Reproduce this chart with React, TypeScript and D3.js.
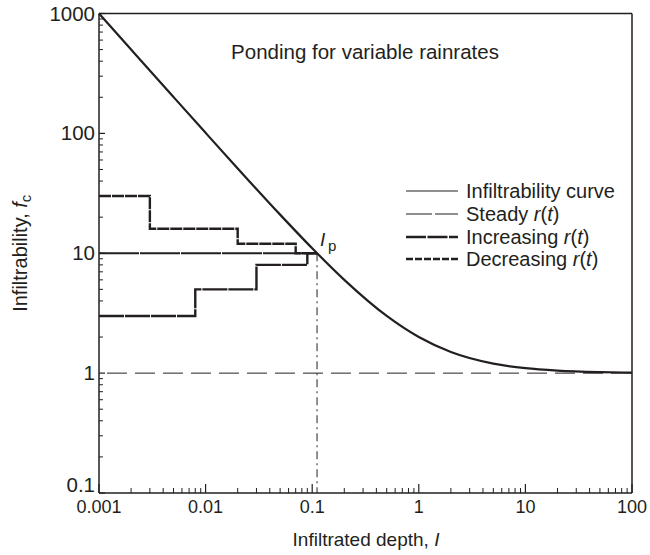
import React from "react";
import * as d3 from "d3";

const curveI = [0.001, 0.002, 0.005, 0.01, 0.02, 0.05, 0.1, 0.2, 0.5, 1, 2, 5, 10, 20, 50, 100];
const curveF = [1001, 501, 201, 101, 51, 21, 11, 6, 3, 2, 1.5, 1.2, 1.1, 1.05, 1.02, 1.01];

const steadyI = [0.001, 0.111];
const steadyF = [10, 10];

const incI = [0.001, 0.008, 0.03, 0.09, 0.111];
const incF = [3, 5, 8, 10];

const decI = [0.001, 0.003, 0.02, 0.07, 0.111];
const decF = [30, 16, 12, 10];

const pondI = 0.111;
const pondF = 10;
const asymptoteF = 1;

const xTicks = [0.001, 0.01, 0.1, 1, 10, 100];
const xTickLabels = ["0.001", "0.01", "0.1", "1", "10", "100"];
const yTicks = [0.1, 1, 10, 100, 1000];
const yTickLabels = ["0.1", "1", "10", "100", "1000"];

const legendLabels = ["Infiltrability curve", "Steady ", "Increasing ", "Decreasing "];

const W = 650, H = 555;
const L = 99, R = 632, T = 13.5, B = 493;
const INK = "#231f20";
const FONT = "'Liberation Sans', Arial, Helvetica, sans-serif";

function stepPath(x: (v: number) => number, y: (v: number) => number, xs: number[], ys: number[]) {
  let d = "";
  for (let i = 0; i < ys.length; i++) {
    const x0 = x(xs[i]), x1 = x(xs[i + 1]), yy = y(ys[i]);
    d += (i === 0 ? `M${x0},${yy}` : `L${x0},${yy}`) + `L${x1},${yy}`;
  }
  return d;
}

export default function App() {
  const x = d3.scaleLog().domain([0.001, 100]).range([L, R]);
  const y = d3.scaleLog().domain([0.1, 1000]).range([B, T]);

  const line = d3.line<number>()
    .x((_, i) => x(curveI[i]))
    .y((d) => y(d))
    .curve(d3.curveMonotoneX);

  const xMinor: number[] = [];
  for (let e = -3; e < 2; e++) for (let k = 2; k <= 9; k++) xMinor.push(k * Math.pow(10, e));
  const yMinor: number[] = [];
  for (let e = -1; e < 3; e++) for (let k = 2; k <= 9; k++) yMinor.push(k * Math.pow(10, e));

  const legY = [191, 214, 237, 259];
  const legStyles = [
    { w: 1.2, dash: "none" },
    { w: 1.2, dash: "26 3" },
    { w: 2.4, dash: "20 1.5" },
    { w: 2.4, dash: "7 2" },
  ];

  return (
    <svg width={W} height={H} style={{ display: "block", position: "absolute", left: 0, top: 0 }} fontFamily={FONT}>
      <rect x={0} y={0} width={W} height={H} fill="white" />
      {/* frame */}
      <line x1={L} y1={T} x2={R} y2={T} stroke={INK} strokeWidth={1.3} />
      <line x1={R} y1={T} x2={R} y2={B} stroke={INK} strokeWidth={1.5} />
      <line x1={L} y1={T} x2={L} y2={B} stroke={INK} strokeWidth={1.5} />
      <line x1={L} y1={B} x2={R} y2={B} stroke={INK} strokeWidth={1.5} />

      {/* x ticks */}
      {xTicks.map((t) => (
        <line key={"xm" + t} x1={x(t)} x2={x(t)} y1={B} y2={B - 9} stroke={INK} strokeWidth={1.2} />
      ))}
      {xMinor.map((t) => (
        <line key={"xn" + t} x1={x(t)} x2={x(t)} y1={B} y2={B - 5} stroke={INK} strokeWidth={1} />
      ))}
      {xTicks.map((t, i) => (
        <text key={"xl" + t} x={x(t)} y={B + 20} fontSize={18} fill={INK} textAnchor="middle">{xTickLabels[i]}</text>
      ))}

      {/* y ticks */}
      {yTicks.map((t) => (
        <line key={"ym" + t} x1={L} x2={L + 6} y1={y(t)} y2={y(t)} stroke={INK} strokeWidth={1.2} />
      ))}
      {yMinor.map((t) => (
        <line key={"yn" + t} x1={L} x2={L + 4} y1={y(t)} y2={y(t)} stroke={INK} strokeWidth={1} />
      ))}
      {yTicks.map((t, i) => (
        <text key={"yl" + t} x={L - 4} y={i === 0 ? y(t) - 1 : y(t) + 7} fontSize={20.5} fill={INK} textAnchor="end">{yTickLabels[i]}</text>
      ))}

      {/* asymptote */}
      <line x1={x(0.001) + 8} x2={R} y1={y(asymptoteF)} y2={y(asymptoteF)} stroke={INK} strokeWidth={1} strokeDasharray="20 8" />
      {/* ponding vertical */}
      <line x1={x(pondI)} x2={x(pondI)} y1={y(pondF)} y2={B} stroke={INK} strokeWidth={1} strokeDasharray="8 4 2 4" />

      {/* steps */}
      <path d={stepPath(x, y, decI, decF)} fill="none" stroke={INK} strokeWidth={2.4} strokeDasharray="12 1" />
      <path d={stepPath(x, y, incI, incF)} fill="none" stroke={INK} strokeWidth={2.4} strokeDasharray="25 1" />
      <path d={stepPath(x, y, steadyI, steadyF)} fill="none" stroke={INK} strokeWidth={2.2} strokeDasharray="40 1" />

      {/* curve */}
      <path d={line(curveF) || ""} fill="none" stroke={INK} strokeWidth={2.2} />

      {/* Ip label */}
      <text x={x(pondI) + 3} y={y(pondF) - 7} fontSize={19} fill={INK} fontStyle="italic">I</text>
      <text x={x(pondI) + 11} y={y(pondF) - 2} fontSize={15} fill={INK}>p</text>

      {/* title */}
      <text x={365} y={59} fontSize={20.5} fill={INK} textAnchor="middle">Ponding for variable rainrates</text>

      {/* legend */}
      {legendLabels.map((lab, i) => (
        <g key={lab}>
          <line x1={406} x2={458} y1={legY[i]} y2={legY[i]} stroke={INK} strokeWidth={legStyles[i].w} strokeDasharray={legStyles[i].dash} />
          <text x={466} y={legY[i] + 7} fontSize={20} fill={INK}>
            {lab}
            {i > 0 && (
              <>
                <tspan fontStyle="italic">r</tspan>(<tspan fontStyle="italic">t</tspan>)
              </>
            )}
          </text>
        </g>
      ))}

      {/* axis titles */}
      <text x={366} y={546} fontSize={19} fill={INK} textAnchor="middle">
        Infiltrated depth, <tspan fontStyle="italic">I</tspan>
      </text>
      <text transform={`translate(27,${(T + B) / 2}) rotate(-90)`} fontSize={20} fill={INK} textAnchor="middle">
        Infiltrability, <tspan fontStyle="italic">f</tspan>
        <tspan fontSize={15} dy={4}>c</tspan>
      </text>
    </svg>
  );
}
